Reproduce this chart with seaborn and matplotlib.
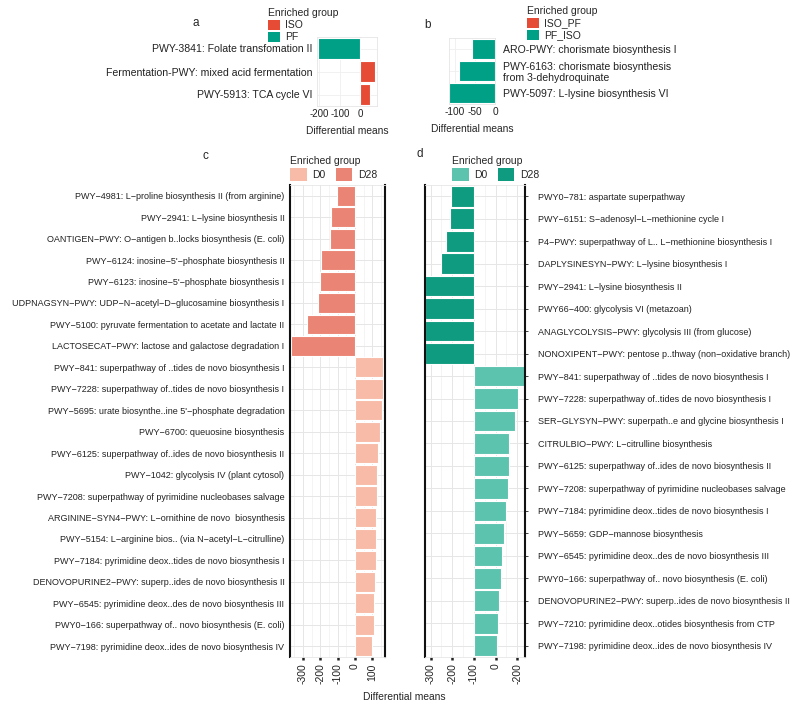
import pandas as pd
import matplotlib
matplotlib.use('Agg')
from matplotlib import pyplot as plt
from matplotlib.patches import Patch
import seaborn as sns

sns.set_theme(style='white')
plt.rcParams['font.family'] = ['Liberation Sans', 'DejaVu Sans']

M = '\u2212'

# panel a
a_paths = ['PWY-3841: Folate transfomation II',
           'Fermentation-PWY: mixed acid fermentation',
           'PWY-5913: TCA cycle VI']
a_means = [-205, 72, 44]
a_group = ['PF', 'ISO', 'ISO']
a_levels = ['ISO', 'PF']

# panel b
b_paths = ['ARO-PWY: chorismate biosynthesis I',
           'PWY-6163: chorismate biosynthesis\nfrom 3-dehydroquinate',
           'PWY-5097: L-lysine biosynthesis VI']
b_means = [-58, -89, -113]
b_group = ['PF_ISO', 'PF_ISO', 'PF_ISO']
b_levels = ['ISO_PF', 'PF_ISO']

# panel c
c_paths = ['PWY-4981: L-proline biosynthesis II (from arginine)',
           'PWY-2941: L-lysine biosynthesis II',
           'OANTIGEN-PWY: O-antigen b..locks biosynthesis (E. coli)',
           "PWY-6124: inosine-5'-phosphate biosynthesis II",
           "PWY-6123: inosine-5'-phosphate biosynthesis I",
           'UDPNAGSYN-PWY: UDP-N-acetyl-D-glucosamine biosynthesis I',
           'PWY-5100: pyruvate fermentation to acetate and lactate II',
           'LACTOSECAT-PWY: lactose and galactose degradation I',
           'PWY-841: superpathway of ..tides de novo biosynthesis I',
           'PWY-7228: superpathway of..tides de novo biosynthesis I',
           "PWY-5695: urate biosynthe..ine 5'-phosphate degradation",
           'PWY-6700: queuosine biosynthesis',
           'PWY-6125: superpathway of..ides de novo biosynthesis II',
           'PWY-1042: glycolysis IV (plant cytosol)',
           'PWY-7208: superpathway of pyrimidine nucleobases salvage',
           'ARGININE-SYN4-PWY: L-ornithine de novo  biosynthesis',
           'PWY-5154: L-arginine bios.. (via N-acetyl-L-citrulline)',
           'PWY-7184: pyrimidine deox..tides de novo biosynthesis I',
           'DENOVOPURINE2-PWY: superp..ides de novo biosynthesis II',
           'PWY-6545: pyrimidine deox..des de novo biosynthesis III',
           'PWY0-166: superpathway of.. novo biosynthesis (E. coli)',
           'PWY-7198: pyrimidine deox..ides de novo biosynthesis IV']
c_means = [-106, -139, -144, -198, -202, -212, -279, -372,
           164, 160, 154, 145, 135, 127, 126, 121, 120, 119, 114, 110, 108, 96]
c_group = ['D28'] * 8 + ['D0'] * 14
c_levels = ['D0', 'D28']

# panel d
d_paths = ['PWY0-781: aspartate superpathway',
           'PWY-6151: S-adenosyl-L-methionine cycle I',
           'P4-PWY: superpathway of L.. L-methionine biosynthesis I',
           'DAPLYSINESYN-PWY: L-lysine biosynthesis I',
           'PWY-2941: L-lysine biosynthesis II',
           'PWY66-400: glycolysis VI (metazoan)',
           'ANAGLYCOLYSIS-PWY: glycolysis III (from glucose)',
           'NONOXIPENT-PWY: pentose p..thway (non-oxidative branch)',
           'PWY-841: superpathway of ..tides de novo biosynthesis I',
           'PWY-7228: superpathway of..tides de novo biosynthesis I',
           'SER-GLYSYN-PWY: superpath..e and glycine biosynthesis I',
           'CITRULBIO-PWY: L-citrulline biosynthesis',
           'PWY-6125: superpathway of..ides de novo biosynthesis II',
           'PWY-7208: superpathway of pyrimidine nucleobases salvage',
           'PWY-7184: pyrimidine deox..tides de novo biosynthesis I',
           'PWY-5659: GDP-mannose biosynthesis',
           'PWY-6545: pyrimidine deox..des de novo biosynthesis III',
           'PWY0-166: superpathway of.. novo biosynthesis (E. coli)',
           'DENOVOPURINE2-PWY: superp..ides de novo biosynthesis II',
           'PWY-7210: pyrimidine deox..otides biosynthesis from CTP',
           'PWY-7198: pyrimidine deox..ides de novo biosynthesis IV']
d_means = [-108, -111, -131, -150, -228, -228, -228, -228,
           236, 204, 192, 162, 162, 157, 146, 140, 130, 123, 116, 113, 107]
d_group = ['D28'] * 8 + ['D0'] * 13
d_levels = ['D0', 'D28']
d_ticks = [-200, -100, 0, 100, 200]
d_ticklabels = ['-300', '-200', '-100', '0', '-200']

pal_a = {'ISO': '#E64B35', 'PF': '#00A087'}
pal_b = {'ISO_PF': '#E64B35', 'PF_ISO': '#00A087'}
pal_c = {'D0': '#F7BBA7', 'D28': '#EA8474'}
pal_d = {'D0': '#5CC3AE', 'D28': '#0E9B80'}


def bars(ax, paths, means, group, levels, pal, dash=False):
    if dash:
        paths = [p.replace('-', M) for p in paths]
    df = pd.DataFrame({'pathway': paths, 'mean': means, 'group': group})
    sns.barplot(data=df, x='mean', y='pathway', hue='group', hue_order=levels,
                palette=pal, saturation=1, dodge=False, width=0.92,
                edgecolor='white', linewidth=0.8, legend=False, ax=ax,
                orient='h')
    ax.set_xlabel('')
    ax.set_ylabel('')
    ax.set_axisbelow(True)


def legend(ax, levels, pal, x, y, ncol=1, size=1.1):
    handles = [Patch(facecolor=pal[k], edgecolor='none', label=k) for k in levels]
    lg = fig.legend(handles=handles, title='Enriched group', loc='upper left',
                    bbox_to_anchor=(x, y), frameon=False, ncol=ncol,
                    fontsize=7.5, title_fontsize=7.5, handlelength=size,
                    handleheight=size, labelspacing=0.15, handletextpad=0.5,
                    columnspacing=1.0, borderpad=0.1)
    lg._legend_box.align = 'left'
    return lg


fig = plt.figure(figsize=(8, 7.05), dpi=100)

# ---- a
ax_a = fig.add_axes([317 / 800, 1 - 106 / 705, 60 / 800, 69 / 705])
bars(ax_a, a_paths, a_means, a_group, a_levels, pal_a)
ax_a.set_xlim(-210, 80)
ax_a.set_xticks([-200, -100, 0])
ax_a.set_xticklabels(['-200', '-100', '0'])
ax_a.grid(True, color='#EFEFEF', lw=0.6)
ax_a.tick_params(axis='y', length=0, pad=3, labelsize=7.6, colors='#222222')
ax_a.tick_params(axis='x', length=0, pad=2, labelsize=7, colors='#222222')
for s in ax_a.spines.values():
    s.set_color('#E5E5E5')
    s.set_linewidth(0.6)
ax_a.set_xlabel('Differential means', fontsize=7.4, labelpad=5)
legend(ax_a, a_levels, pal_a, 262 / 800, 1 - 2 / 705)
fig.text(196 / 800, 1 - 23 / 705, 'a', fontsize=8.5, ha='center', va='center')

# ---- b
ax_b = fig.add_axes([449 / 800, 1 - 104 / 705, 46 / 800, 66 / 705])
bars(ax_b, b_paths, b_means, b_group, b_levels, pal_b)
ax_b.set_xlim(-114, 0)
ax_b.set_xticks([-100, -50, 0])
ax_b.set_xticklabels(['-100', '-50', '0'])
ax_b.yaxis.tick_right()
ax_b.grid(True, color='#EFEFEF', lw=0.6)
for lab in ax_b.get_yticklabels():
    lab.set_horizontalalignment('left')
    lab.set_linespacing(1.15)
ax_b.tick_params(axis='y', length=0, pad=6, labelsize=7.6, colors='#222222')
ax_b.tick_params(axis='x', length=0, pad=2, labelsize=7.3, colors='#222222')
for s in ax_b.spines.values():
    s.set_color('#E5E5E5')
    s.set_linewidth(0.6)
ax_b.set_xlabel('Differential means', fontsize=7.4, labelpad=5)
legend(ax_b, b_levels, pal_b, 521 / 800, 1 - 0 / 705)
fig.text(428 / 800, 1 - 25 / 705, 'b', fontsize=8.5, ha='center', va='center')

# ---- c
ax_c = fig.add_axes([290 / 800, 1 - 657 / 705, 95 / 800, 472 / 705])
bars(ax_c, c_paths, c_means, c_group, c_levels, pal_c, dash=True)
ax_c.set_xlim(-375, 173)
ax_c.set_xticks([-300, -200, -100, 0, 100])
ax_c.set_xticks([-350, -250, -150, -50, 50, 150], minor=True)
ax_c.set_xticklabels(['-300', '-200', '-100', '0', '100'], rotation=90)

# ---- d
ax_d = fig.add_axes([425 / 800, 1 - 657 / 705, 100 / 800, 472 / 705])
bars(ax_d, d_paths, d_means, d_group, d_levels, pal_d, dash=True)
ax_d.set_xlim(-226, 236)
ax_d.set_xticks(d_ticks)
ax_d.set_xticks([-150, -50, 50, 150], minor=True)
ax_d.set_xticklabels(d_ticklabels, rotation=90)
ax_d.yaxis.tick_right()
for lab in ax_d.get_yticklabels():
    lab.set_horizontalalignment('left')

for ax in (ax_c, ax_d):
    ax.grid(True, which='major', color='#E6E6E6', lw=0.7)
    ax.grid(True, which='minor', axis='x', color='#F0F0F0', lw=0.5)
    ax.tick_params(axis='x', which='major', length=2.5, width=1.8, pad=2,
                   labelsize=7.5, colors='#222222', bottom=True)
    ax.tick_params(axis='x', which='minor', length=0)
    ax.tick_params(axis='y', length=2, width=0.6, labelsize=6.5,
                   colors='#222222')
    for side in ('left', 'right'):
        ax.spines[side].set_color('#111111')
        ax.spines[side].set_linewidth(1.5)
    for side in ('top', 'bottom'):
        ax.spines[side].set_color('#E6E6E6')
        ax.spines[side].set_linewidth(0.6)
ax_c.tick_params(axis='y', pad=2)
ax_d.tick_params(axis='y', pad=7.5)

legend(ax_c, c_levels, pal_c, 284 / 800, 1 - 150 / 705, ncol=2, size=1.6)
legend(ax_d, d_levels, pal_d, 446 / 800, 1 - 150 / 705, ncol=2, size=1.6)
fig.text(205 / 800, 1 - 156 / 705, 'c', fontsize=8.5, ha='center', va='center')
fig.text(420 / 800, 1 - 154 / 705, 'd', fontsize=8.5, ha='center', va='center')
fig.text(404 / 800, 1 - 697 / 705, 'Differential means', fontsize=7.4,
         ha='center', va='center')

fig.savefig('out.png', dpi=100)
